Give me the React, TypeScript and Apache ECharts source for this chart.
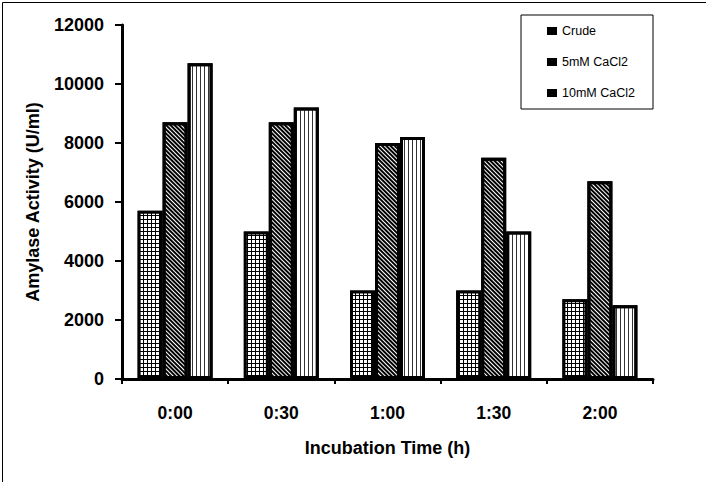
import React, { useEffect, useRef } from "react";
import * as echarts from "echarts";

const categories = ["0:00", "0:30", "1:00", "1:30", "2:00"];
const seriesNames = ["Crude", "5mM CaCl2", "10mM CaCl2"];
const crude = [5700, 5000, 3000, 3000, 2700];
const mM5 = [8700, 8700, 8000, 7500, 6700];
const mM10 = [10700, 9200, 8200, 5000, 2500];
const yTicks = [0, 2000, 4000, 6000, 8000, 10000, 12000];

const FONT = "Arial, 'Liberation Sans', sans-serif";

export default function App() {
  const ref = useRef<HTMLDivElement>(null);
  useEffect(() => {
    document.body.style.margin = "0";
    const chart = echarts.init(ref.current!, null, { renderer: "svg" });
    const border = { borderColor: "#000", borderWidth: 3 };
    const option: any = {
      animation: false,
      backgroundColor: "#fff",
      textStyle: { fontFamily: FONT },
      grid: { left: 122, right: 53, top: 25, bottom: 103, containLabel: false },
      legend: {
        orient: "vertical",
        left: 542,
        top: 18,
        icon: "rect",
        itemWidth: 10,
        itemHeight: 8,
        itemGap: 15,
        textStyle: { fontFamily: FONT, fontSize: 12.5, color: "#000", lineHeight: 16 },
        data: seriesNames.map((n) => ({ name: n, itemStyle: { color: "#000", borderWidth: 0, decal: "none" } })),
      },
      xAxis: {
        type: "category",
        data: categories,
        name: "Incubation Time (h)",
        nameLocation: "middle",
        nameGap: 60,
        nameTextStyle: { fontFamily: FONT, fontSize: 18, fontWeight: "bold", color: "#000" },
        axisLine: { lineStyle: { color: "#000", width: 3 } },
        axisTick: { show: true, length: 5, lineStyle: { color: "#000", width: 2 } },
        axisLabel: { fontFamily: FONT, fontSize: 17.5, fontWeight: "bold", color: "#000", margin: 25 },
      },
      yAxis: {
        type: "value",
        min: yTicks[0],
        max: yTicks[yTicks.length - 1],
        interval: 2000,
        name: "Amylase Activity (U/ml)",
        nameLocation: "middle",
        nameGap: 80,
        nameTextStyle: { fontFamily: FONT, fontSize: 18, fontWeight: "bold", color: "#000" },
        axisLine: { show: true, lineStyle: { color: "#000", width: 3 } },
        axisTick: { show: true, length: 7, lineStyle: { color: "#000", width: 2 } },
        axisLabel: {
          fontFamily: FONT,
          fontSize: 18,
          fontWeight: "bold",
          color: "#000",
          margin: 18,
          formatter: (v: number) => String(v),
        },
        splitLine: { show: false },
      },
      series: [
        {
          name: seriesNames[0],
          type: "bar",
          data: crude,
          barWidth: 25,
          barGap: "0%",
          itemStyle: {
            ...border,
            color: "#000",
            decal: { symbol: "rect", symbolSize: 1, color: "#fff", dashArrayX: [3, 1], dashArrayY: [3, 1] },
          },
        },
        {
          name: seriesNames[1],
          type: "bar",
          data: mM5,
          barWidth: 25,
          barGap: "0%",
          itemStyle: {
            ...border,
            color: "#fff",
            decal: { symbol: "rect", symbolSize: 1, color: "#000", dashArrayX: [1, 0], dashArrayY: [1.5, 1], rotation: Math.PI / 4 },
          },
        },
        {
          name: seriesNames[2],
          type: "bar",
          data: mM10,
          barWidth: 25,
          barGap: "0%",
          itemStyle: {
            ...border,
            color: "#fff",
            decal: { symbol: "rect", symbolSize: 1, color: "#333", dashArrayX: [1, 3], dashArrayY: [1, 0] },
          },
        },
      ],
      graphic: [
        { type: "rect", left: 0, top: 0, shape: { width: 705, height: 481 }, style: { fill: "none", stroke: "#000", lineWidth: 1 }, silent: true },
        { type: "rect", shape: { x: 521, y: 15, width: 132, height: 94 }, style: { fill: "none", stroke: "#000", lineWidth: 1 }, silent: true },
      ],
    };
    chart.setOption(option);
    return () => chart.dispose();
  }, []);
  return <div ref={ref} style={{ width: 706, height: 482 }} />;
}
